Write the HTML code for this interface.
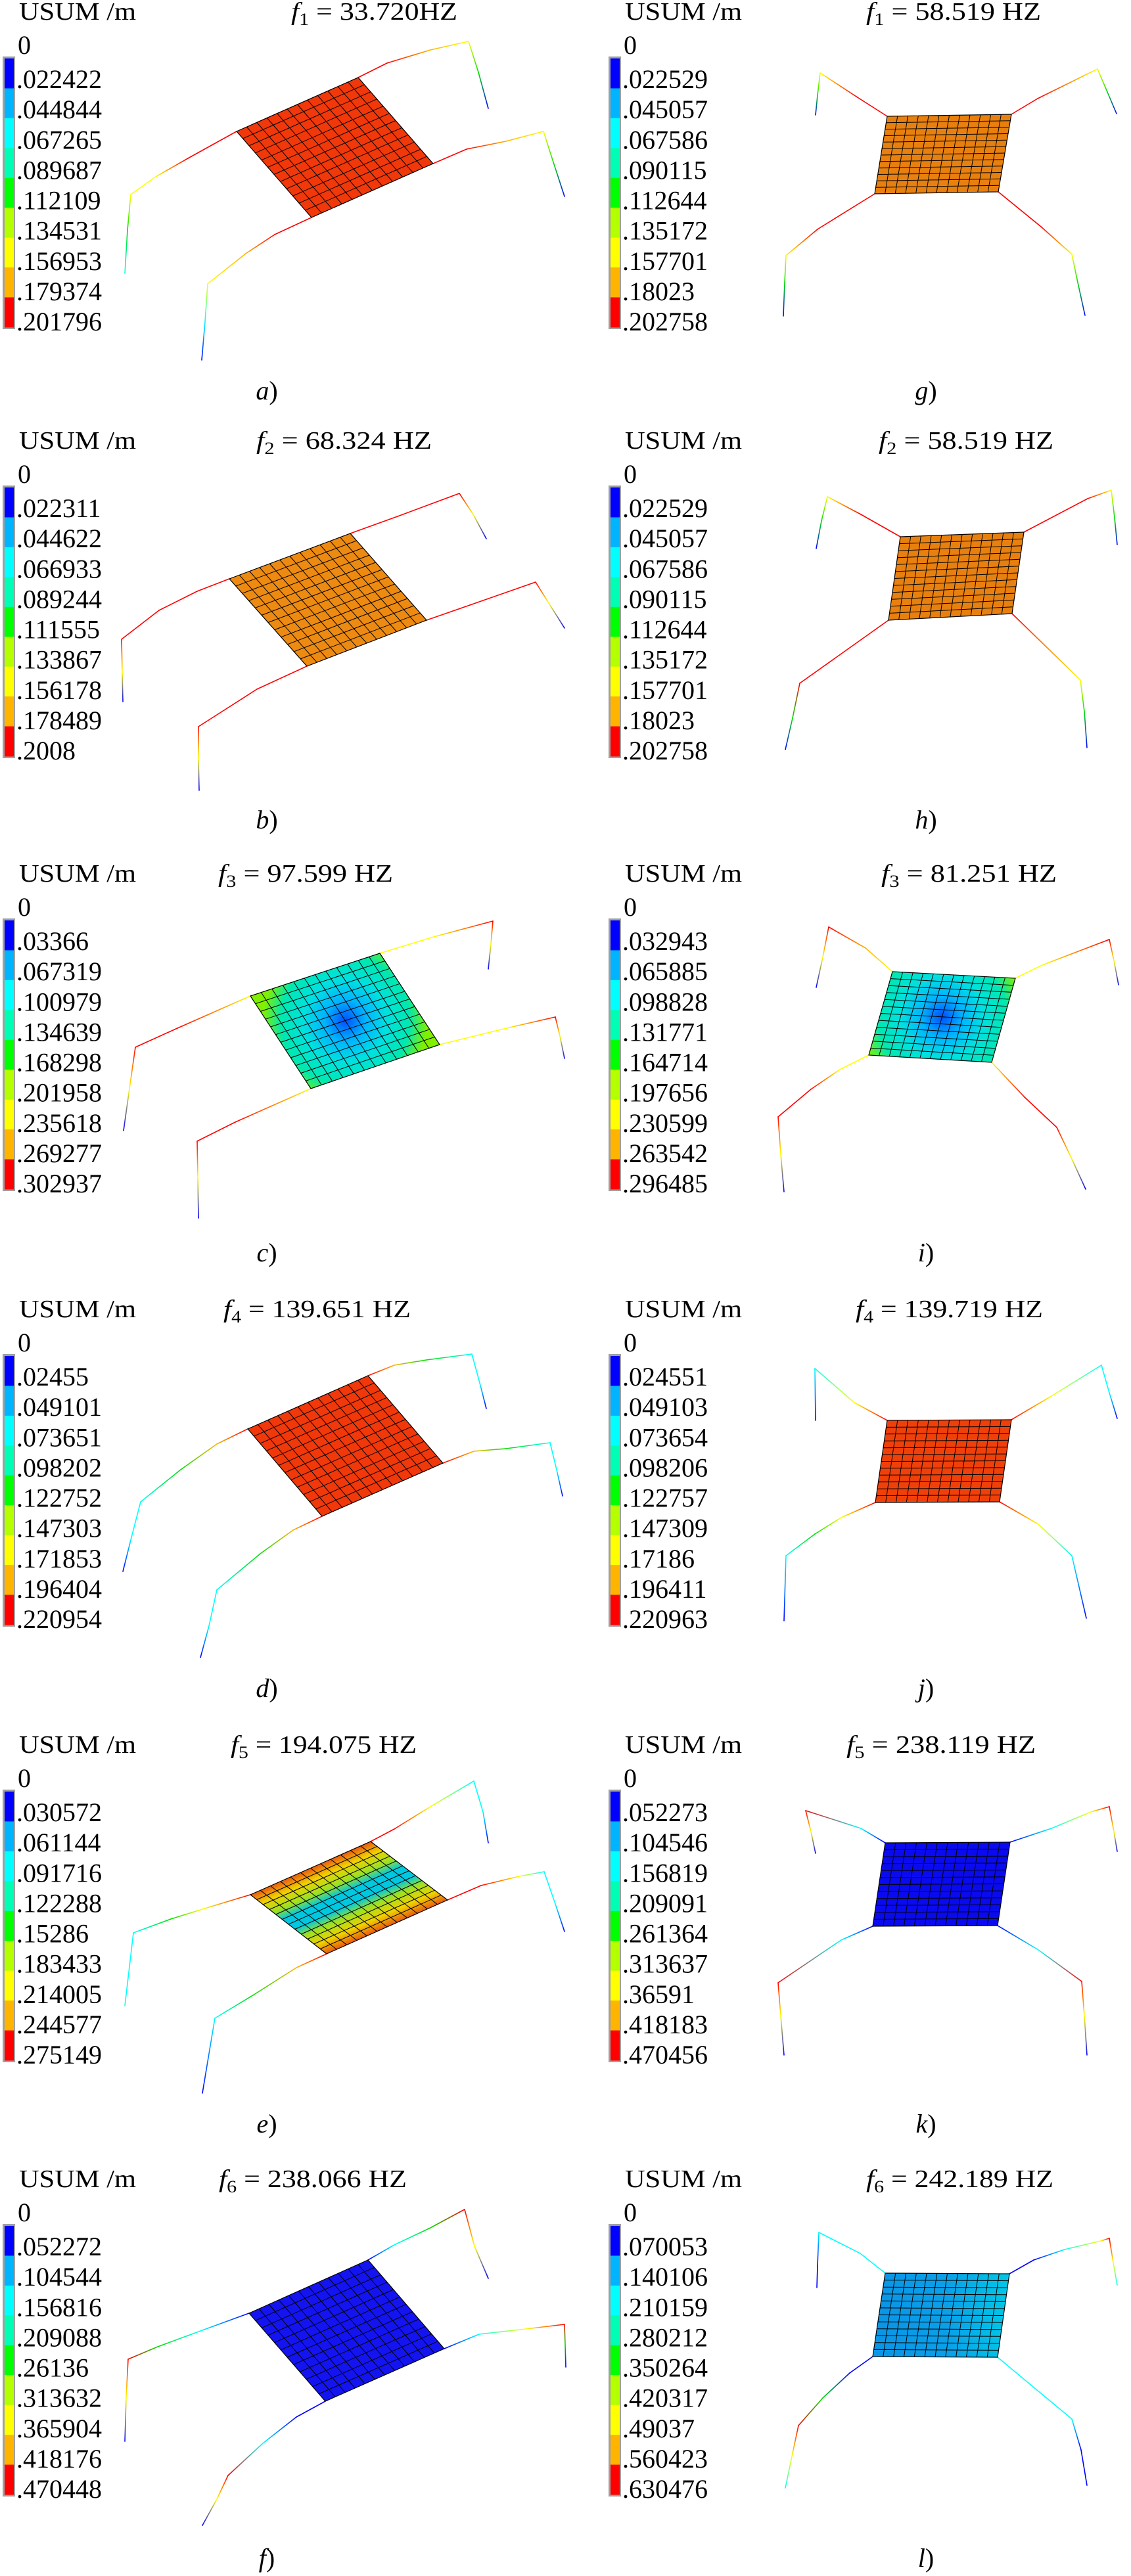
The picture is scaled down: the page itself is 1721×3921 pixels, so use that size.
<!DOCTYPE html>
<html><head><meta charset="utf-8"><title>Mode shapes</title>
<style>
html,body{margin:0;padding:0;background:#fff;}
svg{display:block;}
text{font-family:"Liberation Serif","DejaVu Serif",serif;fill:#000;}
</style></head>
<body>
<svg id="fig" xmlns="http://www.w3.org/2000/svg" width="1721" height="3921" viewBox="0 0 1721 3921"></svg>
<script>
// ---- data ----
const panelIds = ['a','b','c','d','e','f','g','h','i','j','k','l'];
const modeSubs = ['1','2','3','4','5','6','1','2','3','4','5','6'];
const freqTexts = [' = 33.720HZ',' = 68.324 HZ',' = 97.599 HZ',' = 139.651 HZ',' = 194.075 HZ',' = 238.066 HZ',
                   ' = 58.519 HZ',' = 58.519 HZ',' = 81.251 HZ',' = 139.719 HZ',' = 238.119 HZ',' = 242.189 HZ'];
const legendLabels = [
 ['.022422','.044844','.067265','.089687','.112109','.134531','.156953','.179374','.201796'],
 ['.022311','.044622','.066933','.089244','.111555','.133867','.156178','.178489','.2008'],
 ['.03366','.067319','.100979','.134639','.168298','.201958','.235618','.269277','.302937'],
 ['.02455','.049101','.073651','.098202','.122752','.147303','.171853','.196404','.220954'],
 ['.030572','.061144','.091716','.122288','.15286','.183433','.214005','.244577','.275149'],
 ['.052272','.104544','.156816','.209088','.26136','.313632','.365904','.418176','.470448'],
 ['.022529','.045057','.067586','.090115','.112644','.135172','.157701','.18023','.202758'],
 ['.022529','.045057','.067586','.090115','.112644','.135172','.157701','.18023','.202758'],
 ['.032943','.065885','.098828','.131771','.164714','.197656','.230599','.263542','.296485'],
 ['.024551','.049103','.073654','.098206','.122757','.147309','.17186','.196411','.220963'],
 ['.052273','.104546','.156819','.209091','.261364','.313637','.36591','.418183','.470456'],
 ['.070053','.140106','.210159','.280212','.350264','.420317','.49037','.560423','.630476']
];
const legendColors = ['#0000ff','#00b4ff','#00ffff','#00ffb4','#00ff00','#b4ff00','#ffff00','#ffb400','#ff0000'];
const titleSpan = [[443,696],[390,657],[332,598],[340,625],[351,634],[333,619],
                   [458,724],[477,743],[481,748],[442,727],[428,716],[458,743]];
const rowTops = [0,653,1312,1975,2638,3299];
const plates = [
 {p:[[360,200],[545,118],[659,249],[474,331]], fill:'#f0380a'},
 {p:[[349,228],[533,159],[649,291],[467,361]], fill:'#ec8a12'},
 {p:[[381,204],[578,139],[669,278],[473,345]], fill:'rad'},
 {p:[[377,200],[560,119],[674,252],[490,333]], fill:'#f0380a'},
 {p:[[381,246],[564,165],[681,254],[497,336]], fill:'stripe'},
 {p:[[379,222],[560,141],[676,276],[495,356]], fill:'#1414f0'},
 {p:[[490,177],[679,174],[659,292],[471,295]], fill:'#e8800f'},
 {p:[[510,164],[698,157],[680,281],[492,291]], fill:'#e8800f'},
 {p:[[498,167],[685,177],[649,305],[462,294]], fill:'rad'},
 {p:[[490,187],[679,186],[661,311],[472,312]], fill:'#f0400a'},
 {p:[[487,167],[677,166],[658,293],[468,294]], fill:'#0a0aef'},
 {p:[[487,161],[676,162],[658,289],[468,288]], fill:'lin'}
];
const beams = [
 [[[360,200,'R'],[286,241,'R'],[237,269,'Y'],[199,296,'Y'],[194,350,'G'],[190,416,'C']],
  [[545,118,'R'],[589,96,'R'],[655,76,'O'],[713,63,'Y'],[728,110,'G'],[743,165,'B']],
  [[474,331,'R'],[418,357,'R'],[374,386,'O'],[316,432,'Y'],[312,490,'C'],[307,548,'B']],
  [[659,249,'R'],[710,227,'R'],[770,215,'O'],[827,200,'Y'],[843,250,'G'],[859,299,'B']]],
 [[[349,228,'R'],[300,247,'R'],[242,276,'R'],[185,320,'R'],[186,370,'Y'],[187,415,'B']],
  [[533,159,'R'],[605,133,'R'],[699,98,'R'],[720,130,'Y'],[740,167,'B']],
  [[467,361,'R'],[391,396,'R'],[302,453,'R'],[302,500,'Y'],[303,550,'B']],
  [[649,291,'R'],[715,268,'R'],[815,233,'R'],[835,265,'Y'],[859,303,'B']]],
 [[[381,204,'Y'],[270,253,'R'],[206,282,'R'],[197,345,'Y'],[188,409,'B']],
  [[578,139,'Y'],[660,114,'Y'],[750,90,'R'],[747,125,'Y'],[743,163,'B']],
  [[473,345,'Y'],[358,396,'R'],[300,425,'R'],[301,480,'Y'],[302,542,'B']],
  [[669,278,'Y'],[771,253,'Y'],[845,236,'R'],[852,265,'Y'],[859,299,'B']]],
 [[[377,200,'R'],[330,223,'O'],[275,262,'G'],[214,311,'C'],[200,365,'C'],[187,417,'B']],
  [[560,119,'R'],[600,103,'O'],[649,95,'G'],[718,86,'C'],[730,130,'C'],[740,169,'B']],
  [[490,333,'R'],[446,354,'O'],[396,390,'G'],[330,445,'C'],[318,500,'C'],[305,548,'B']],
  [[674,252,'R'],[721,234,'O'],[770,230,'G'],[837,221,'C'],[847,262,'C'],[856,302,'B']]],
 [[[381,246,'R'],[308,268,'Y'],[260,283,'G'],[203,304,'C'],[190,415,'C']],
  [[564,165,'R'],[600,146,'R'],[655,112,'Y'],[721,73,'C'],[735,120,'C'],[743,167,'B']],
  [[497,336,'R'],[451,357,'O'],[385,399,'G'],[327,434,'C'],[308,548,'B']],
  [[681,254,'R'],[732,232,'R'],[790,218,'Y'],[828,211,'C'],[845,260,'C'],[859,302,'B']]],
 [[[379,222,'B'],[305,249,'C'],[240,273,'G'],[195,292,'R'],[192,350,'Y'],[190,417,'B']],
  [[560,141,'B'],[600,118,'C'],[655,92,'G'],[707,64,'R'],[722,120,'Y'],[743,169,'B']],
  [[495,356,'B'],[451,380,'B'],[400,420,'C'],[347,469,'R'],[330,505,'Y'],[308,545,'B']],
  [[676,276,'B'],[729,254,'C'],[800,246,'Y'],[859,239,'R'],[860,270,'G'],[861,304,'B']]],
 [[[490,177,'R'],[443,147,'R'],[388,111,'Y'],[384,145,'G'],[381,175,'B']],
  [[679,174,'R'],[719,150,'R'],[810,105,'Y'],[825,140,'G'],[839,173,'B']],
  [[471,295,'R'],[384,349,'R'],[336,389,'Y'],[334,430,'G'],[332,481,'B']],
  [[659,292,'R'],[724,345,'R'],[771,387,'Y'],[780,430,'G'],[791,480,'B']]],
 [[[510,164,'R'],[450,130,'R'],[399,103,'Y'],[390,140,'G'],[382,182,'B']],
  [[698,157,'R'],[795,106,'R'],[831,93,'Y'],[836,135,'G'],[840,176,'B']],
  [[492,291,'R'],[357,387,'R'],[346,440,'G'],[335,488,'B']],
  [[680,281,'R'],[784,382,'Y'],[790,430,'G'],[794,485,'B']]],
 [[[498,167,'Y'],[457,131,'O'],[401,99,'R'],[392,145,'Y'],[382,191,'B']],
  [[685,177,'Y'],[726,157,'Y'],[828,118,'R'],[835,150,'Y'],[842,187,'B']],
  [[462,294,'Y'],[418,316,'Y'],[374,346,'R'],[324,388,'R'],[328,445,'Y'],[333,502,'B']],
  [[649,305,'Y'],[699,358,'R'],[748,404,'R'],[770,450,'Y'],[792,498,'B']]],
 [[[490,187,'R'],[440,160,'Y'],[380,108,'C'],[381,187,'B']],
  [[679,186,'R'],[740,150,'Y'],[816,103,'C'],[828,145,'C'],[840,184,'B']],
  [[472,312,'R'],[420,335,'Y'],[380,360,'G'],[336,393,'C'],[333,492,'B']],
  [[661,311,'R'],[720,345,'Y'],[771,393,'C'],[793,488,'B']]],
 [[[487,167,'B'],[450,145,'C'],[366,118,'R'],[374,150,'Y'],[381,183,'B']],
  [[677,166,'B'],[740,145,'C'],[800,120,'Y'],[828,112,'R'],[835,150,'Y'],[840,180,'B']],
  [[468,294,'B'],[420,315,'C'],[324,380,'R'],[328,430,'Y'],[333,490,'B']],
  [[658,293,'B'],[720,330,'C'],[786,378,'R'],[790,430,'Y'],[794,490,'B']]],
 [[[487,161,'C'],[449,131,'C'],[386,99,'C'],[384,150,'B'],[383,183,'B']],
  [[676,162,'B'],[713,141,'B'],[760,125,'C'],[815,112,'Y'],[828,108,'R'],[834,145,'Y'],[840,179,'C']],
  [[468,288,'B'],[433,313,'B'],[392,351,'G'],[355,393,'R'],[345,440,'Y'],[335,488,'C']],
  [[658,289,'C'],[730,349,'C'],[771,383,'C'],[785,430,'B'],[794,484,'B']]]
];
const cmap = {R:'#ff0000',O:'#ffb400',Y:'#ffff00',G:'#00e000',C:'#00ffff',B:'#0000ff',L:'#00b4ff'};

// ---- drawing ----
const NS='http://www.w3.org/2000/svg';
const svg=document.getElementById('fig');
const defs=document.createElementNS(NS,'defs');svg.appendChild(defs);
function mk(tag,attrs,parent){const e=document.createElementNS(NS,tag);for(const k in attrs)e.setAttribute(k,attrs[k]);(parent||svg).appendChild(e);return e;}
let gid=0;
function grad(x1,y1,x2,y2,stops){const id='g'+(gid++);const g=mk('linearGradient',{id:id,gradientUnits:'userSpaceOnUse',x1:x1,y1:y1,x2:x2,y2:y2},defs);
 stops.forEach(s=>mk('stop',{offset:s[0],'stop-color':s[1]},g));return 'url(#'+id+')';}
function bil(p,u,v){const a=p[0],b=p[1],c=p[2],d=p[3];
 return [ (1-v)*((1-u)*a[0]+u*b[0]) + v*((1-u)*d[0]+u*c[0]),
          (1-v)*((1-u)*a[1]+u*b[1]) + v*((1-u)*d[1]+u*c[1]) ];}

panelIds.forEach((pid,i)=>{
 const col = i<6?0:1, row=i%6;
 const ox = col*860, oy=rowTops[row];
 const g=mk('g',{transform:'translate('+ox+','+oy+')'});
 
 

 const us=mk('text',{x:col?91:29,y:30,'font-size':38,textLength:178,lengthAdjust:'spacingAndGlyphs'},g);
 us.textContent='USUM /m';
 
 
 const tt=mk('text',{x:titleSpan[i][0],y:30,'font-size':38,textLength:titleSpan[i][1]-titleSpan[i][0],lengthAdjust:'spacingAndGlyphs'},g);
 
 
 const t1=mk('tspan',{'font-style':'italic'},tt);t1.textContent='f';
 const t2=mk('tspan',{'font-size':26,dy:8},tt);t2.textContent=modeSubs[i];
 const t3=mk('tspan',{dy:-8},tt);t3.textContent=freqTexts[i];

 const bx = col?66:4, by=86, bh=415, seg=bh/9;
 const cb=mk('g',{},g);
 
 
 mk('rect',{x:bx,y:by,width:19,height:bh,fill:'#a0a0a0'},cb);
 legendColors.forEach((c,k)=>{
  const r=mk('rect',{x:bx+3,y:by+3+k*(bh-6)/9,width:14,height:(bh-6)/9+0.5,fill:c},cb);
  
  
 });
 const z=mk('text',{x:bx+23,y:by-4,'font-size':40},cb);z.textContent='0';
 legendLabels[i].forEach((lab,k)=>{
  const t=mk('text',{x:bx+21,y:by+seg*(k+1)+2,'font-size':40},cb);
  t.textContent=lab;
  
  
 });

 beams[i].forEach(bm=>{
  for(let k=0;k<bm.length-1;k++){
   const a=bm[k],b=bm[k+1];
   const st=grad(a[0],a[1],b[0],b[1],[[0,cmap[a[2]]],[1,cmap[b[2]]]]);
   const l=mk('line',{x1:a[0],y1:a[1],x2:b[0],y2:b[1],stroke:st,'stroke-width':1.6,'stroke-linecap':'round'},g);
   
   
  }
 });

 const P=plates[i].p; let fill=plates[i].fill;
 const cx=(P[0][0]+P[1][0]+P[2][0]+P[3][0])/4, cy=(P[0][1]+P[1][1]+P[2][1]+P[3][1])/4;
 if(fill==='rad'){
  const id='g'+(gid++);const rg=mk('radialGradient',{id:id,gradientUnits:'userSpaceOnUse',cx:cx,cy:cy,r:125},defs);
  [[0,'#0050ff'],[0.25,'#00b4ff'],[0.5,'#00e0e0'],[0.78,'#00e8b0'],[1,'#80f000']].forEach(s=>mk('stop',{offset:s[0],'stop-color':s[1]},rg));
  fill='url(#'+id+')';
 } else if(fill==='stripe'){
  const ex=P[1][0]-P[0][0], ey=P[1][1]-P[0][1], L=Math.hypot(ex,ey);
  let nx=-ey/L, ny=ex/L;
  const m1=[(P[0][0]+P[1][0])/2,(P[0][1]+P[1][1])/2], m2=[(P[3][0]+P[2][0])/2,(P[3][1]+P[2][1])/2];
  let dd=(m2[0]-m1[0])*nx+(m2[1]-m1[1])*ny;
  fill=grad(m1[0],m1[1],m1[0]+nx*dd,m1[1]+ny*dd,[[0,'#e85a10'],[0.14,'#f0d000'],[0.3,'#a0e020'],[0.42,'#00c8e0'],[0.58,'#00c8e0'],[0.7,'#a0e020'],[0.86,'#f0d000'],[1,'#e85a10']]);
 } else if(fill==='lin'){
  fill=grad(P[0][0],cy,P[1][0],cy,[[0,'#0a96e6'],[0.5,'#0aa0e8'],[1,'#00c8e6']]);
 }
 const pl=mk('polygon',{points:P.map(p=>p.join(',')).join(' '),fill:fill,stroke:'#000','stroke-width':1.2},g);
 
 
 const N=12;let d='';
 for(let k=1;k<N;k++){
  const a=bil(P,k/N,0),b=bil(P,k/N,1),c=bil(P,0,k/N),e=bil(P,1,k/N);
  d+='M'+a[0].toFixed(1)+' '+a[1].toFixed(1)+'L'+b[0].toFixed(1)+' '+b[1].toFixed(1);
  d+='M'+c[0].toFixed(1)+' '+c[1].toFixed(1)+'L'+e[0].toFixed(1)+' '+e[1].toFixed(1);
 }
 const mesh=mk('path',{d:d,stroke:'#000','stroke-width':1,fill:'none'},g);
 
 

 const lb=mk('text',{x:col?549:406,y:608,'font-size':40,'text-anchor':'middle'},g);
 
 
 const l1=mk('tspan',{'font-style':'italic'},lb);l1.textContent=pid;
 const l2=mk('tspan',{},lb);l2.textContent=')';
});
</script>
</body></html>
